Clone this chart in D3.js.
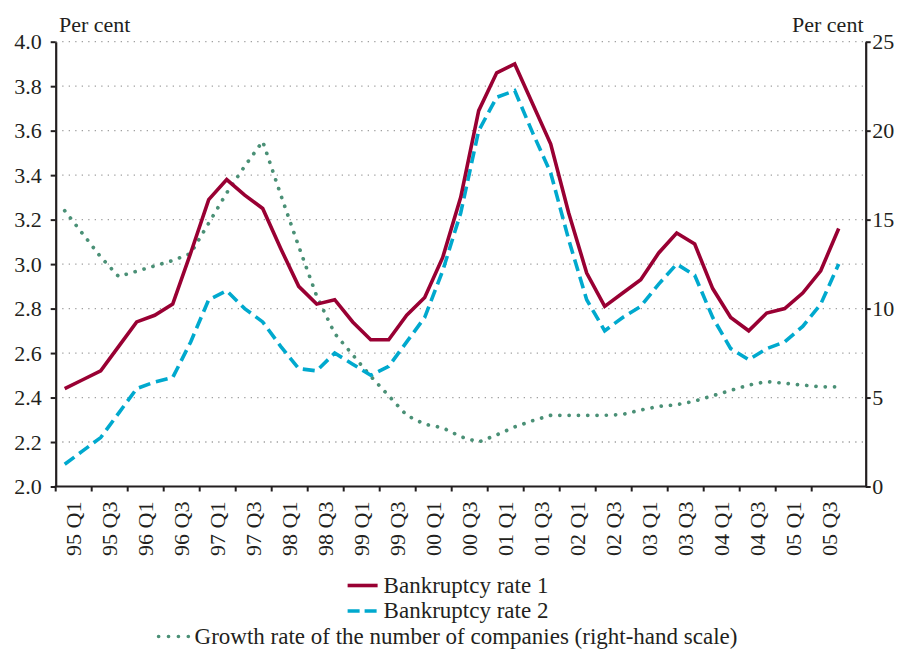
<!DOCTYPE html>
<html><head><meta charset="utf-8">
<script src="https://cdn.jsdelivr.net/npm/d3@7"></script>
<style>
body{margin:0;background:#fff}
svg{display:block}
text{font-family:"Liberation Serif","Times New Roman",serif;fill:#231f20}
</style>
</head><body><svg id="c" width="898" height="650"></svg>
<script>
// ---- data ----
const quarters = [
  "95 Q1","95 Q2","95 Q3","95 Q4","96 Q1","96 Q2","96 Q3","96 Q4",
  "97 Q1","97 Q2","97 Q3","97 Q4","98 Q1","98 Q2","98 Q3","98 Q4",
  "99 Q1","99 Q2","99 Q3","99 Q4","00 Q1","00 Q2","00 Q3","00 Q4",
  "01 Q1","01 Q2","01 Q3","01 Q4","02 Q1","02 Q2","02 Q3","02 Q4",
  "03 Q1","03 Q2","03 Q3","03 Q4","04 Q1","04 Q2","04 Q3","04 Q4",
  "05 Q1","05 Q2","05 Q3","05 Q4"
];
const extraSlot = ["06 Q1"]; // empty category at the end of the axis
const xTickLabels = ["95 Q1","95 Q3","96 Q1","96 Q3","97 Q1","97 Q3","98 Q1","98 Q3",
  "99 Q1","99 Q3","00 Q1","00 Q3","01 Q1","01 Q3","02 Q1","02 Q3",
  "03 Q1","03 Q3","04 Q1","04 Q3","05 Q1","05 Q3"];
const bankruptcyRate1 = [2.44,2.48,2.52,2.63,2.74,2.77,2.82,3.05,3.29,3.38,3.31,3.25,3.07,2.90,2.82,2.84,
  2.74,2.66,2.66,2.77,2.85,3.03,3.30,3.69,3.86,3.90,3.72,3.54,3.23,2.96,2.81,2.87,
  2.93,3.05,3.14,3.09,2.89,2.76,2.70,2.78,2.80,2.87,2.97,3.16];
const bankruptcyRate2 = [2.10,2.16,2.22,2.33,2.44,2.47,2.49,2.65,2.84,2.88,2.80,2.74,2.63,2.53,2.52,2.60,
  2.55,2.50,2.54,2.65,2.76,2.97,3.23,3.60,3.75,3.78,3.59,3.41,3.11,2.84,2.70,2.76,
  2.81,2.91,3.00,2.95,2.76,2.62,2.57,2.62,2.65,2.72,2.82,3.00];
const companyGrowth = [15.5,14.2,12.9,11.8,12.1,12.4,12.7,13.1,14.8,16.5,18.0,19.4,16.4,13.5,10.7,8.6,
  7.4,6.2,5.1,4.0,3.5,3.3,2.8,2.5,2.9,3.35,3.7,4.0,4.0,4.0,4.0,4.05,
  4.3,4.5,4.6,4.8,5.1,5.4,5.7,5.9,5.8,5.7,5.6,5.6];
const leftTicks = [2.0,2.2,2.4,2.6,2.8,3.0,3.2,3.4,3.6,3.8,4.0];
const rightTicks = [0,5,10,15,20,25];
const seriesNames = ["Bankruptcy rate 1","Bankruptcy rate 2","Growth rate of the number of companies (right-hand scale)"];

// ---- layout ----
const L = 55.7, R = 865.7, T = 41.7, B = 486.5;
const FS = 22, LFS = 23;
const ink = "#231f20";
const colors = {r1:"#990033", r2:"#00a9ce", g:"#4a9076"};

const svg = d3.select("#c");
const x = d3.scaleBand().domain([...quarters, ...extraSlot]).range([L, R]).paddingInner(0).paddingOuter(0);
const cx = q => x(q) + x.bandwidth() / 2;
const yL = d3.scaleLinear().domain([2, 4]).range([B, T]);
const yR = d3.scaleLinear().domain([0, 25]).range([B, T]);

// gridlines
svg.append("g").selectAll("line").data(leftTicks.filter(v => v > 2)).join("line")
  .attr("x1", L).attr("x2", R).attr("y1", d => yL(d)).attr("y2", d => yL(d))
  .attr("stroke", "#a0a0a0").attr("stroke-width", 1.3).attr("stroke-dasharray", "1.3,5.2");

// left axis
const gl = svg.append("g").attr("transform", `translate(${L},0)`)
  .call(d3.axisLeft(yL).tickValues(leftTicks).tickFormat(d3.format(".1f")).tickSize(5).tickSizeOuter(0).tickPadding(9));
// right axis
const gr = svg.append("g").attr("transform", `translate(${R},0)`)
  .call(d3.axisRight(yR).tickValues(rightTicks).tickFormat(d3.format("d")).tickSize(5).tickSizeOuter(0).tickPadding(1.5));
[gl, gr].forEach(g => {
  g.select(".domain").attr("stroke", ink).attr("stroke-width", 2.2);
  g.selectAll(".tick line").attr("stroke", ink).attr("stroke-width", 2);
  g.selectAll(".tick text").attr("font-size", FS).attr("font-family", '"Liberation Serif",serif').attr("fill", ink);
});

// x axis
const gx = svg.append("g");
gx.append("line").attr("x1", L - 1).attr("x2", R + 1).attr("y1", B).attr("y2", B)
  .attr("stroke", ink).attr("stroke-width", 2.2);
gx.selectAll("line.t").data(xTickLabels).join("line").attr("class", "t")
  .attr("x1", d => x(d)).attr("x2", d => x(d)).attr("y1", B).attr("y2", B + 5)
  .attr("stroke", ink).attr("stroke-width", 2);
gx.selectAll("text").data(xTickLabels).join("text")
  .attr("transform", d => `translate(${x(d) + x.bandwidth()},${B + 15}) rotate(-90)`)
  .attr("text-anchor", "end").attr("dy", "0.35em").attr("font-size", FS).text(d => d);

// axis titles
svg.append("text").attr("x", 59).attr("y", 31.5).attr("font-size", FS).text("Per cent");
svg.append("text").attr("x", 863.5).attr("y", 31.5).attr("font-size", FS).attr("text-anchor", "end").text("Per cent");

// series
const lineL = d3.line().x((d, i) => cx(quarters[i])).y(d => yL(d));
const lineR = d3.line().x((d, i) => cx(quarters[i])).y(d => yR(d));
svg.append("path").datum(companyGrowth).attr("d", lineR).attr("fill", "none")
  .attr("stroke", colors.g).attr("stroke-width", 3.7).attr("stroke-linecap", "round").attr("stroke-dasharray", "0.1,9.2");
svg.append("path").datum(bankruptcyRate2).attr("d", lineL).attr("fill", "none")
  .attr("stroke", colors.r2).attr("stroke-width", 3.6).attr("stroke-dasharray", "12,6");
svg.append("path").datum(bankruptcyRate1).attr("d", lineL).attr("fill", "none")
  .attr("stroke", colors.r1).attr("stroke-width", 3.6).attr("stroke-linejoin", "miter");

// legend
const legend = [
  {name: seriesNames[0], color: colors.r1, dash: null, cap: "butt", y: 585.5},
  {name: seriesNames[1], color: colors.r2, dash: "12,5", cap: "butt", y: 611},
  {name: seriesNames[2], color: colors.g, dash: "0.1,9.8", cap: "round", y: 636.5}
];
const sampleW = 30, gap = 6, centerX = 448;
legend.forEach(e => {
  const g = svg.append("g");
  const t = g.append("text").attr("font-size", LFS).attr("dy", "0.32em").text(e.name);
  const tw = t.node().getComputedTextLength();
  const total = sampleW + gap + tw;
  const x0 = centerX - total / 2;
  g.append("line").attr("x1", x0).attr("x2", x0 + sampleW).attr("y1", e.y).attr("y2", e.y)
    .attr("stroke", e.color).attr("stroke-width", 3.6).attr("stroke-linecap", e.cap)
    .attr("stroke-dasharray", e.dash);
  t.attr("x", x0 + sampleW + gap).attr("y", e.y);
});
</script>
</body></html>
